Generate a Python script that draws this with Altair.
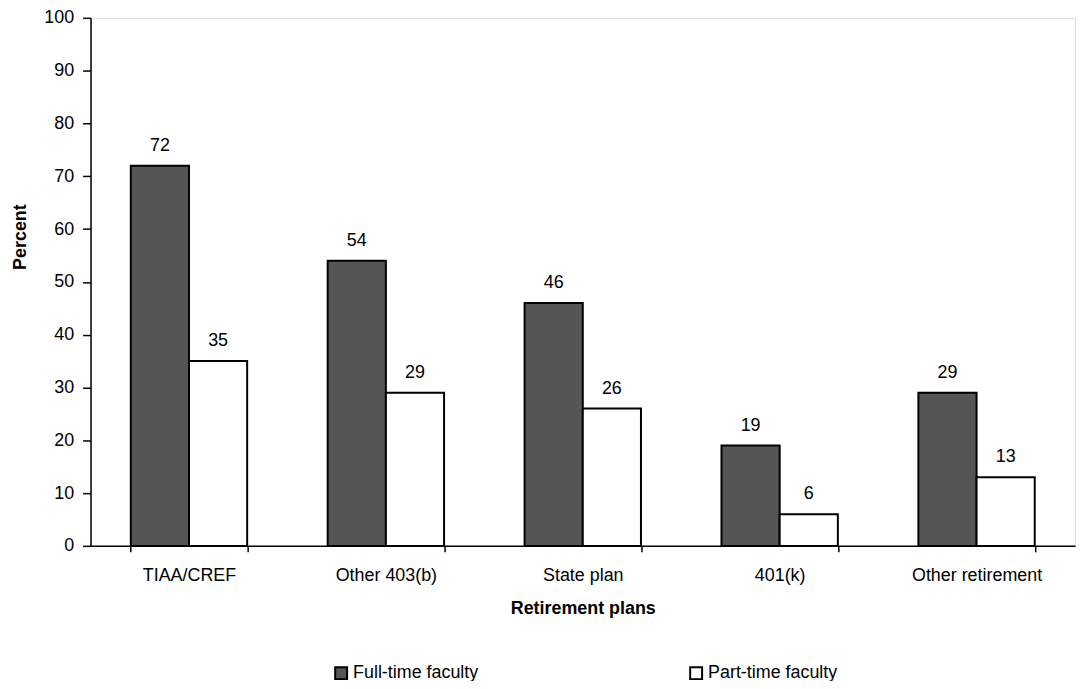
import altair as alt
import pandas as pd

categories = ["TIAA/CREF", "Other 403(b)", "State plan", "401(k)", "Other retirement"]
series_names = ["Full-time faculty", "Part-time faculty"]
full_time = [72, 54, 46, 19, 29]
part_time = [35, 29, 26, 6, 13]
y_ticks = [0, 10, 20, 30, 40, 50, 60, 70, 80, 90, 100]

rows = []
for c, f, p in zip(categories, full_time, part_time):
    rows.append({"plan": c, "series": series_names[0], "value": f})
    rows.append({"plan": c, "series": series_names[1], "value": p})
df = pd.DataFrame(rows)

FONT = "Liberation Sans"
FS = 18

base = alt.Chart(df).encode(
    x=alt.X(
        "plan:N",
        sort=categories,
        scale=alt.Scale(paddingInner=0.409, paddingOuter=0.2045),
        axis=alt.Axis(
            title="Retirement plans",
            labelAngle=0,
            tickBand="extent",
            tickSize=6,
            labelPadding=15,
            titlePadding=15,
            labelFontSize=FS,
            titleFontSize=FS,
            titleFontWeight="bold",
            labelFont=FONT,
            titleFont=FONT,
            domainColor="black",
            tickColor="black",
            domainWidth=1.5,
            tickWidth=1.5,
            labelColor="black",
            titleColor="black",
        ),
    ),
    xOffset=alt.XOffset("series:N", sort=series_names),
    y=alt.Y(
        "value:Q",
        scale=alt.Scale(domain=[0, 100]),
        axis=alt.Axis(
            title="Percent",
            values=y_ticks,
            grid=False,
            tickSize=8,
            labelPadding=9,
            titlePadding=14,
            titleY=220,
            labelFontSize=FS,
            titleFontSize=FS,
            titleFontWeight="bold",
            labelFont=FONT,
            titleFont=FONT,
            domainColor="black",
            tickColor="black",
            domainWidth=1.5,
            tickWidth=1.5,
            labelColor="black",
            titleColor="black",
        ),
    ),
)

bars = base.mark_bar(stroke="black", strokeWidth=2).encode(
    fill=alt.Fill(
        "series:N",
        sort=series_names,
        scale=alt.Scale(domain=series_names, range=["#555555", "#ffffff"]),
        legend=alt.Legend(
            title=None,
            orient="none",
            legendX=243,
            legendY=650,
            direction="horizontal",
            symbolType="square",
            symbolSize=144,
            symbolStrokeColor="black",
            symbolStrokeWidth=2,
            labelFontSize=FS,
            labelFont=FONT,
            labelColor="black",
            labelOffset=3,
            columnPadding=208,
            padding=0,
        ),
    )
)

labels = base.mark_text(
    dy=-15, baseline="alphabetic", fontSize=FS, font=FONT, color="black"
).encode(text="value:Q")

chart = (
    (bars + labels)
    .properties(
        width=990,
        height=531,
        autosize=alt.AutoSizeParams(type="none"),
        padding={"left": 83, "top": 8, "right": 2, "bottom": 134},
    )
    .configure_view(stroke=None)
    .configure(background="white")
)

chart.save("out.html", embed_options={"renderer": "svg", "actions": False})
